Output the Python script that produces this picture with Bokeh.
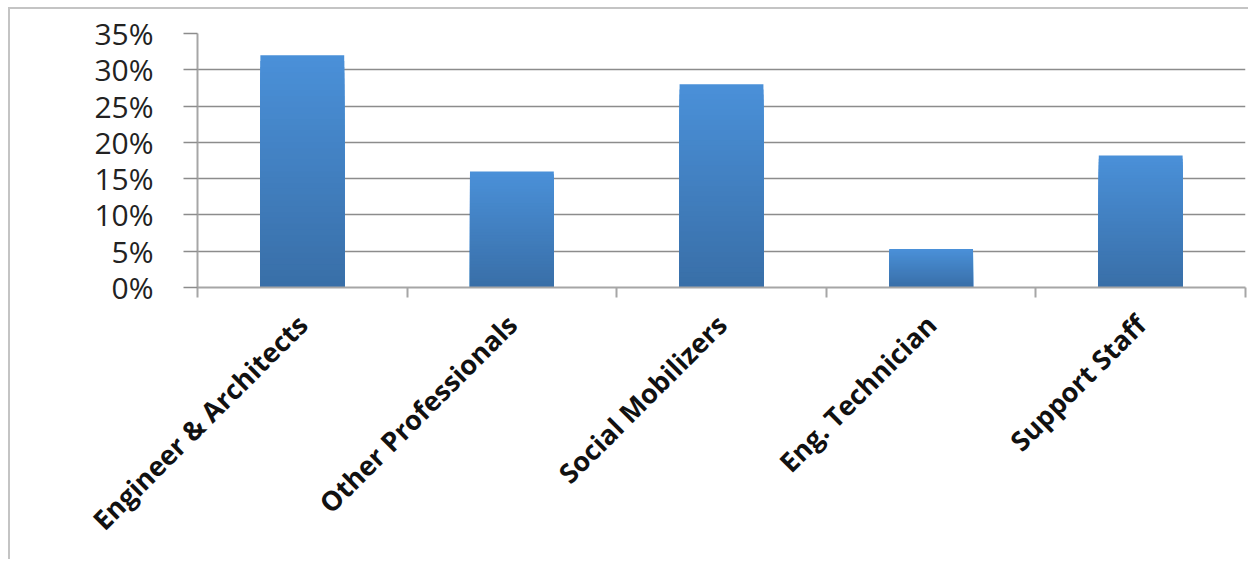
from bokeh.plotting import figure
from bokeh.models import Range1d, FixedTicker, NumeralTickFormatter, ColumnDataSource
from bokeh.embed import file_html
from bokeh.resources import INLINE
import math

# ---- data ----
categories = ["Engineer & Architects", "Other Professionals", "Social Mobilizers",
              "Eng. Technician", "Support Staff"]
shares = [0.32, 0.16, 0.28, 0.053, 0.182]
y_ticks = [0.0, 0.05, 0.10, 0.15, 0.20, 0.25, 0.30, 0.35]

# ---- style ----
TOP_COLOR = (74, 144, 216)
BOTTOM_COLOR = (57, 111, 168)
GRID = "#8c8c8c"
AXIS = "#a6a6a6"

p = figure(width=1240, height=552, output_backend="svg", toolbar_location=None,
           x_range=Range1d(0, len(categories)), y_range=Range1d(0, 0.35),
           min_border_left=187, min_border_right=5, min_border_top=24,
           min_border_bottom=274)
p.margin = (7, 0, 0, 8)
p.outline_line_color = None
p.background_fill_color = "white"
p.border_fill_color = "white"
p.styles = {"border-left": "2px solid #c4c4c4", "border-top": "2px solid #c4c4c4"}

# bars with a vertical gradient, drawn as nested layers of the same data
xs = [i + 0.5 for i in range(len(categories))]
N = 40
for k in range(N):
    f = 1 - k / N
    t = k / (N - 1)
    c = tuple(int(round(TOP_COLOR[j] + (BOTTOM_COLOR[j] - TOP_COLOR[j]) * t)) for j in range(3))
    col = "#%02x%02x%02x" % c
    src = ColumnDataSource(dict(x=xs, top=[v * f for v in shares]))
    p.vbar(x="x", top="top", bottom=0, width=0.4, source=src,
           fill_color=col, line_color=None)

# x axis: labels at category centres, tick marks at boundaries
p.xaxis.ticker = FixedTicker(ticks=xs, minor_ticks=list(range(len(categories) + 1)))
p.xaxis.major_label_overrides = {x: c for x, c in zip(xs, categories)}
p.xaxis.major_label_orientation = math.pi / 4
p.xaxis.major_tick_line_color = None
p.xaxis.major_tick_in = 0
p.xaxis.major_tick_out = 0
p.xaxis.minor_tick_in = 0
p.xaxis.minor_tick_out = 10
p.xaxis.minor_tick_line_color = AXIS
p.xaxis.minor_tick_line_width = 2
p.xaxis.axis_line_color = AXIS
p.xaxis.axis_line_width = 2
p.xaxis.major_label_text_font = "Open Sans"
p.xaxis.major_label_text_font_style = "bold"
p.xaxis.major_label_text_font_size = "27px"
p.xaxis.major_label_text_color = "#111111"
p.xaxis.major_label_standoff = 22

# y axis
p.yaxis.ticker = FixedTicker(ticks=y_ticks)
p.yaxis.formatter = NumeralTickFormatter(format="0%")
p.yaxis.minor_tick_line_color = None
p.yaxis.major_tick_in = 0
p.yaxis.major_tick_out = 14
p.yaxis.major_tick_line_color = GRID
p.yaxis.major_tick_line_width = 1.5
p.yaxis.axis_line_color = AXIS
p.yaxis.axis_line_width = 2
p.yaxis.major_label_text_font = "Open Sans"
p.yaxis.major_label_text_font_size = "30px"
p.yaxis.major_label_text_color = "#222222"
p.yaxis.major_label_standoff = 30

p.xgrid.grid_line_color = None
p.ygrid.ticker = FixedTicker(ticks=y_ticks)
p.ygrid.grid_line_color = GRID
p.ygrid.grid_line_width = 1.5
p.ygrid.level = "underlay"

open("out.html", "w").write(file_html(p, INLINE))
